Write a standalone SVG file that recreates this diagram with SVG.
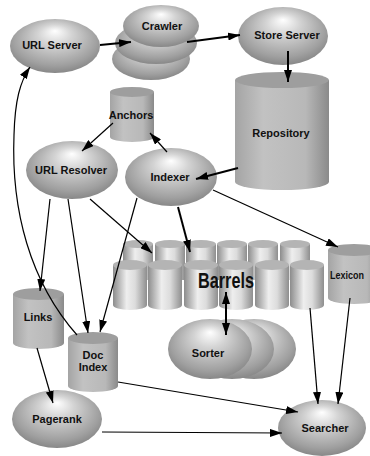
<svg xmlns="http://www.w3.org/2000/svg" width="370" height="456" viewBox="0 0 370 456">
<defs>
<radialGradient id="eg" cx="0.5" cy="0.45" r="0.62" fx="0.5" fy="0.22">
<stop offset="0" stop-color="#ffffff"/>
<stop offset="0.3" stop-color="#d4d4d4"/>
<stop offset="0.75" stop-color="#a0a0a0"/>
<stop offset="1" stop-color="#7c7c7c"/>
</radialGradient>
<linearGradient id="cg" x1="0" y1="0" x2="1" y2="0">
<stop offset="0" stop-color="#a4a4a4"/>
<stop offset="0.3" stop-color="#c2c2c2"/>
<stop offset="0.75" stop-color="#b8b8b8"/>
<stop offset="1" stop-color="#8a8a8a"/>
</linearGradient>
<linearGradient id="bg" x1="0" y1="0" x2="1" y2="0">
<stop offset="0" stop-color="#8c8c8c"/>
<stop offset="0.4" stop-color="#eeeeee"/>
<stop offset="0.65" stop-color="#dcdcdc"/>
<stop offset="1" stop-color="#8e8e8e"/>
</linearGradient>
<marker id="ah" viewBox="0 0 12 8" refX="12" refY="4" markerWidth="12" markerHeight="8" markerUnits="userSpaceOnUse" orient="auto-start-reverse">
<path d="M0,0 L12,4 L0,8 z" fill="#000"/>
</marker>
<style>
.el{fill:url(#eg);}
.cb{fill:url(#cg);}
.ct{fill:#9e9e9e;}
.bb{fill:url(#bg);}
.bt{fill:#b4b4b4;}
.t{font-family:"Liberation Sans",Arial,sans-serif;font-weight:bold;font-size:11px;fill:#111;text-anchor:middle;}
.c{fill:none;stroke:#000;stroke-width:1.2;marker-end:url(#ah);}
.k{stroke-width:2;}
</style>
</defs>

<g id="url-server">
<ellipse class="el" cx="55" cy="46" rx="45" ry="27"/>
<text class="t" x="52" y="49">URL Server</text>
</g>

<g id="crawler">
<ellipse class="el" cx="151" cy="59" rx="39" ry="21"/>
<ellipse class="el" cx="156" cy="43" rx="41" ry="21"/>
<ellipse class="el" cx="161" cy="26" rx="38" ry="21"/>
<text class="t" x="162" y="30">Crawler</text>
</g>

<g id="store-server">
<ellipse class="el" cx="283" cy="36" rx="45" ry="29"/>
<text class="t" x="287" y="39">Store Server</text>
</g>

<g id="repository">
<path class="cb" d="M235,80 L235,182 A47,8 0 0 0 329,182 L329,80 Z"/>
<ellipse class="ct" cx="282" cy="80" rx="47" ry="8"/>
<text class="t" x="281" y="137">Repository</text>
</g>

<g id="anchors">
<path class="cb" d="M110,92 L110,137 A22,5 0 0 0 154,137 L154,92 Z"/>
<ellipse class="ct" cx="132" cy="92" rx="22" ry="5"/>
<text class="t" x="131" y="119">Anchors</text>
</g>

<g id="url-resolver">
<ellipse class="el" cx="72" cy="170" rx="46" ry="29"/>
<text class="t" x="71" y="174">URL Resolver</text>
</g>

<g id="indexer">
<ellipse class="el" cx="171" cy="177" rx="46" ry="29"/>
<text class="t" x="170" y="181">Indexer</text>
</g>

<g id="barrels">
<path class="bb" d="M123,244 L123,280 L153,280 L153,244 Z"/>
<ellipse class="bt" cx="138" cy="244" rx="15" ry="4"/>
<path class="bb" d="M155,244 L155,280 L185,280 L185,244 Z"/>
<ellipse class="bt" cx="170" cy="244" rx="15" ry="4"/>
<path class="bb" d="M186,244 L186,280 L216,280 L216,244 Z"/>
<ellipse class="bt" cx="201" cy="244" rx="15" ry="4"/>
<path class="bb" d="M217,244 L217,280 L247,280 L247,244 Z"/>
<ellipse class="bt" cx="232" cy="244" rx="15" ry="4"/>
<path class="bb" d="M248,244 L248,280 L278,280 L278,244 Z"/>
<ellipse class="bt" cx="263" cy="244" rx="15" ry="4"/>
<path class="bb" d="M280,244 L280,280 L310,280 L310,244 Z"/>
<ellipse class="bt" cx="295" cy="244" rx="15" ry="4"/>
<path class="bb" d="M113,265 L113,305 A17,5 0 0 0 147,305 L147,265 Z"/>
<ellipse class="bt" cx="130" cy="265" rx="17" ry="5"/>
<path class="bb" d="M148,265 L148,305 A17,5 0 0 0 182,305 L182,265 Z"/>
<ellipse class="bt" cx="165" cy="265" rx="17" ry="5"/>
<path class="bb" d="M184,265 L184,305 A17,5 0 0 0 218,305 L218,265 Z"/>
<ellipse class="bt" cx="201" cy="265" rx="17" ry="5"/>
<path class="bb" d="M219,265 L219,305 A17,5 0 0 0 253,305 L253,265 Z"/>
<ellipse class="bt" cx="236" cy="265" rx="17" ry="5"/>
<path class="bb" d="M255,265 L255,305 A17,5 0 0 0 289,305 L289,265 Z"/>
<ellipse class="bt" cx="272" cy="265" rx="17" ry="5"/>
<path class="bb" d="M290,265 L290,305 A17,5 0 0 0 324,305 L324,265 Z"/>
<ellipse class="bt" cx="307" cy="265" rx="17" ry="5"/>
<text class="t" x="226" y="288" style="font-size:22px" textLength="56" lengthAdjust="spacingAndGlyphs">Barrels</text>
</g>

<g id="sorter">
<ellipse class="el" cx="254" cy="349" rx="42" ry="30"/>
<ellipse class="el" cx="232" cy="349" rx="42" ry="30"/>
<ellipse class="el" cx="210" cy="349" rx="42" ry="30"/>
<text class="t" x="208" y="357">Sorter</text>
</g>

<g id="lexicon">
<path class="cb" d="M328,250 L328,298 A26,6 0 0 0 380,298 L380,250 Z"/>
<ellipse class="ct" cx="354" cy="250" rx="26" ry="6"/>
<text class="t" x="330" y="279" style="text-anchor:start;font-size:10.5px" textLength="34" lengthAdjust="spacingAndGlyphs">Lexicon</text>
</g>

<g id="links">
<path class="cb" d="M13,294 L13,343 A25.5,6 0 0 0 64,343 L64,294 Z"/>
<ellipse class="ct" cx="38.5" cy="294" rx="25.5" ry="6"/>
<text class="t" x="38" y="321">Links</text>
</g>

<g id="doc-index">
<path class="cb" d="M68,338 L68,386 A25,6 0 0 0 118,386 L118,338 Z"/>
<ellipse class="ct" cx="93" cy="338" rx="25" ry="6"/>
<text class="t" x="93" y="359">Doc</text>
<text class="t" x="93" y="371">Index</text>
</g>

<g id="pagerank">
<ellipse class="el" cx="57" cy="419" rx="45" ry="29"/>
<text class="t" x="57" y="423">Pagerank</text>
</g>

<g id="searcher">
<ellipse class="el" cx="322" cy="428" rx="44" ry="28"/>
<text class="t" x="325" y="432">Searcher</text>
</g>

<g id="connectors">
<path class="c k" d="M100,45 L131,42"/>
<path class="c k" d="M187,42 L240,35"/>
<path class="c k" d="M288,51 L288,82"/>
<path class="c k" d="M238,168 L196,179"/>
<path class="c" d="M167,152 L150,133"/>
<path class="c" d="M113,123 L82,151"/>
<path class="c" d="M90,199 L152,253"/>
<path class="c k" d="M178,207 L190,252"/>
<path class="c" d="M213,190 L338,247"/>
<path class="c" d="M137,198 L100,332"/>
<path class="c" d="M68,199 L88,333"/>
<path class="c" d="M50,199 L40,291"/>
<path class="c" d="M77,335 C30,282 11,210 14,135 C15,100 20,82 30,67"/>
<path class="c" d="M37,348 L53,403"/>
<path class="c" d="M102,432 L282,433"/>
<path class="c" d="M118,382 L298,412"/>
<path class="c" d="M310,308 L318,404"/>
<path class="c" d="M350,298 L338,404"/>
<path class="c k" d="M226,292 L226,335" style="marker-start:url(#ah)"/>
</g>
</svg>
